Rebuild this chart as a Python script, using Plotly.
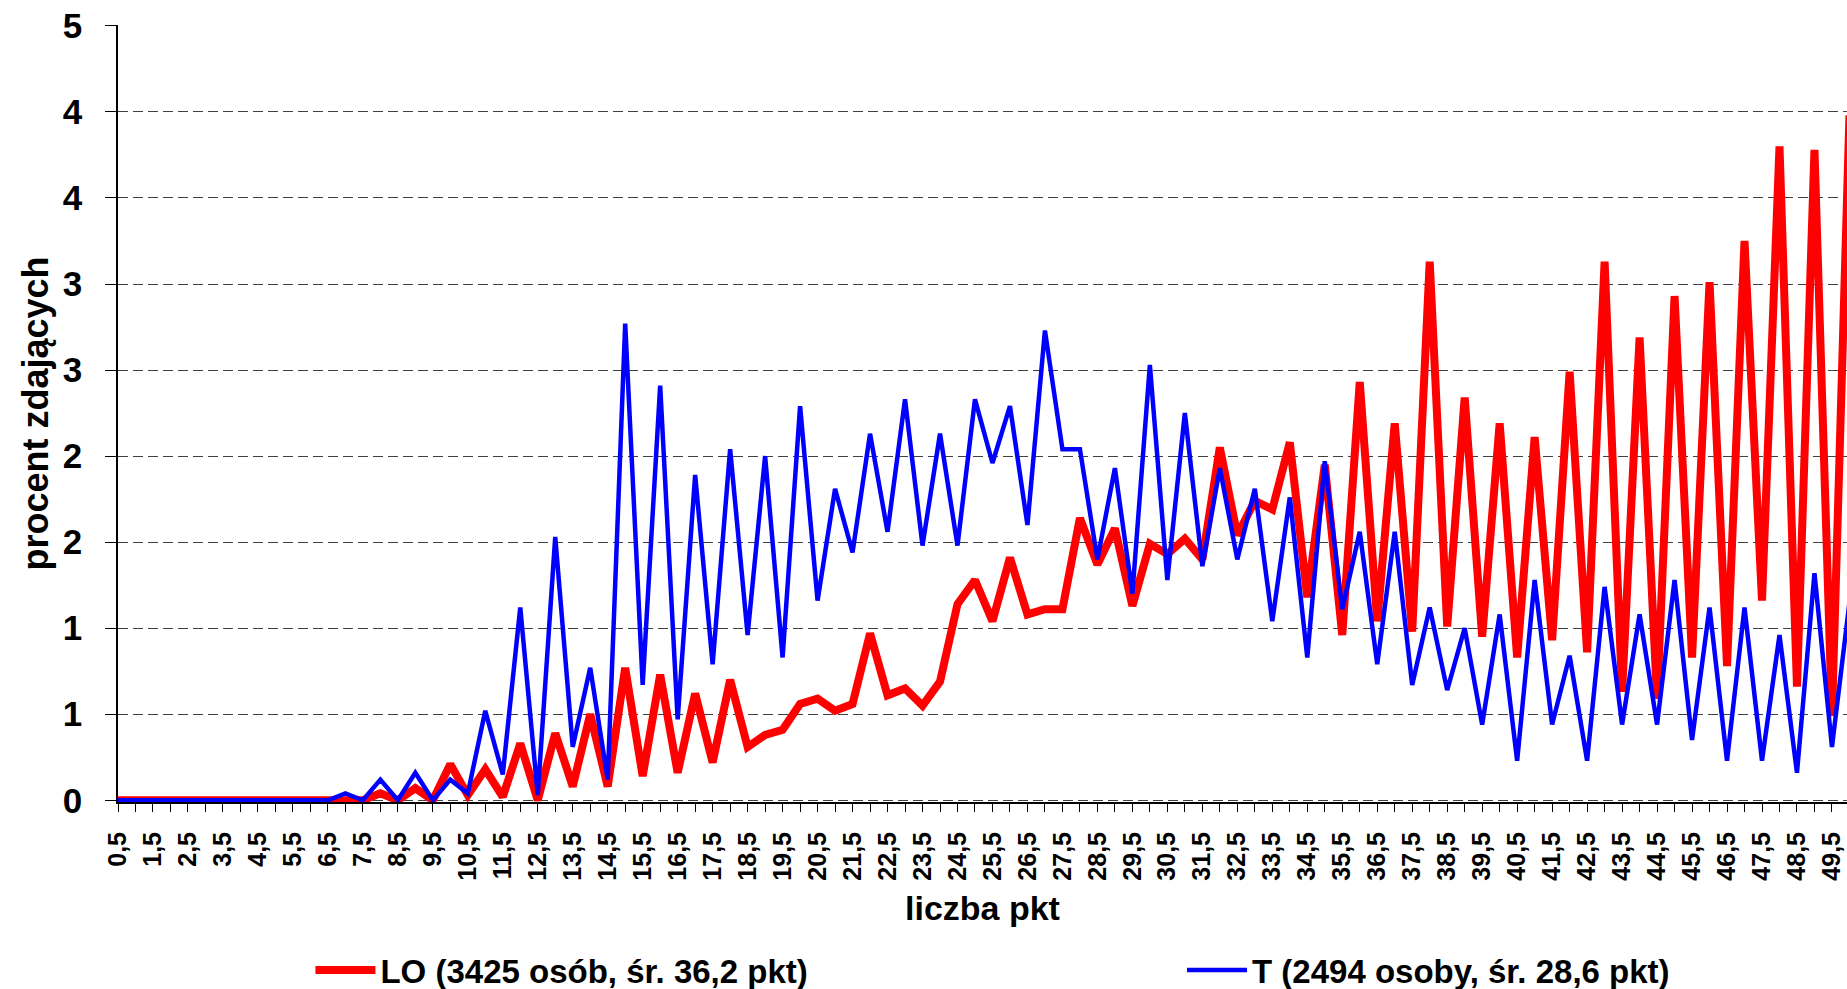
import plotly.graph_objects as go

# kategorie: liczba punktów co 0,5 (0,5 ... 50)
points = [k / 2 for k in range(1, 101)]

# procent zdających - LO (3425 osób)
lo_values = [
    0, 0, 0, 0, 0, 0, 0, 0, 0, 0,
    0, 0, 0, 0.01, 0, 0.04, 0, 0.07, 0, 0.21,
    0.03, 0.18, 0.02, 0.33, 0, 0.39, 0.08, 0.50, 0.08, 0.77,
    0.14, 0.73, 0.16, 0.62, 0.22, 0.70, 0.31, 0.38, 0.41, 0.56,
    0.59, 0.52, 0.56, 0.97, 0.61, 0.65, 0.55, 0.69, 1.14, 1.28,
    1.04, 1.41, 1.08, 1.11, 1.11, 1.64, 1.37, 1.58, 1.13, 1.49,
    1.43, 1.52, 1.40, 2.05, 1.54, 1.74, 1.69, 2.08, 1.18, 1.95,
    0.96, 2.43, 1.04, 2.19, 0.98, 3.13, 1.01, 2.34, 0.95, 2.19,
    0.83, 2.11, 0.93, 2.49, 0.86, 3.13, 0.63, 2.69, 0.59, 2.93,
    0.83, 3.01, 0.78, 3.25, 1.16, 3.80, 0.66, 3.78, 0.49, 3.98,
]

# procent zdających - T (2494 osoby)
t_values = [
    0, 0, 0, 0, 0, 0, 0, 0, 0, 0,
    0, 0, 0, 0.04, 0, 0.12, 0, 0.16, 0, 0.12,
    0.04, 0.52, 0.15, 1.12, 0.03, 1.53, 0.31, 0.77, 0.12, 2.77,
    0.67, 2.41, 0.47, 1.89, 0.79, 2.04, 0.96, 2.00, 0.83, 2.29,
    1.16, 1.81, 1.44, 2.13, 1.56, 2.33, 1.48, 2.13, 1.48, 2.33,
    1.96, 2.29, 1.60, 2.73, 2.04, 2.04, 1.40, 1.93, 1.20, 2.53,
    1.28, 2.25, 1.36, 1.93, 1.40, 1.81, 1.04, 1.76, 0.83, 1.97,
    1.11, 1.56, 0.79, 1.56, 0.67, 1.12, 0.64, 1.00, 0.44, 1.08,
    0.23, 1.28, 0.44, 0.84, 0.23, 1.24, 0.44, 1.08, 0.44, 1.28,
    0.35, 1.12, 0.23, 1.12, 0.23, 0.96, 0.16, 1.32, 0.31, 1.15,
]

# etykiety osi Y (Excel zaokrągla 0,5 -> 1 itd.)
y_tickvals = [0, 0.5, 1, 1.5, 2, 2.5, 3, 3.5, 4, 4.5]
y_ticktext = ["0", "1", "1", "2", "2", "3", "3", "4", "4", "5"]

# etykiety osi X - co druga kategoria
x_ticktext = [f"{p:.1f}".replace(".", ",") if i % 2 == 0 else "" for i, p in enumerate(points)]

FONT = "Liberation Sans, Arial, sans-serif"

fig = go.Figure()

fig.add_trace(go.Scatter(
    x=points, y=lo_values,
    mode="lines",
    name="LO (3425 osób, śr. 36,2 pkt)",
    line=dict(color="#FF0000", width=8),
    legend="legend",
))

fig.add_trace(go.Scatter(
    x=points, y=t_values,
    mode="lines",
    name="T (2494 osoby, śr. 28,6 pkt)",
    line=dict(color="#0000FF", width=4.5),
    legend="legend2",
))

# legenda w układzie "container", żeby nie przesuwała marginesów
legend_style = dict(
    orientation="h",
    yref="container",
    yanchor="middle",
    xanchor="left",
    y=0.0192,
    itemwidth=60,
    bgcolor="rgba(0,0,0,0)",
    font=dict(family=FONT, size=33, color="black", weight="bold"),
)

fig.update_layout(
    width=1847,
    height=989,
    margin=dict(l=118, r=0, t=25, b=187),
    plot_bgcolor="white",
    paper_bgcolor="white",
    showlegend=True,
    legend=dict(legend_style, x=0.1113),
    legend2=dict(legend_style, x=0.6154),
    xaxis=dict(
        range=[0.5, 49.93],
        automargin=False,
        tickmode="array",
        tickvals=points,
        ticktext=x_ticktext,
        tickangle=-90,
        tickfont=dict(family=FONT, size=25, color="black", weight="bold"),
        ticks="outside",
        ticklen=8,
        tickwidth=1,
        tickcolor="black",
        ticklabelstandoff=10,
        showline=True,
        linecolor="black",
        linewidth=2,
        showgrid=False,
        zeroline=False,
    ),
    yaxis=dict(
        range=[-0.01, 4.505],
        automargin=False,
        tickmode="array",
        tickvals=y_tickvals,
        ticktext=y_ticktext,
        tickfont=dict(family=FONT, size=35, color="black", weight="bold"),
        ticks="outside",
        ticklen=11,
        tickwidth=1,
        tickcolor="black",
        ticklabelstandoff=16,
        showline=True,
        linecolor="black",
        linewidth=1.5,
        showgrid=True,
        gridcolor="#404040",
        gridwidth=1,
        griddash="10px,5px",
        zeroline=False,
    ),
    annotations=[
        dict(
            text="liczba pkt",
            xref="paper", yref="paper",
            x=0.5, y=-0.1368,
            xanchor="center", yanchor="middle",
            showarrow=False,
            font=dict(family=FONT, size=34, color="black", weight="bold"),
        ),
        dict(
            text="procent zdających",
            xref="paper", yref="paper",
            x=-0.048, y=0.5,
            xanchor="center", yanchor="middle",
            textangle=-90,
            showarrow=False,
            font=dict(family=FONT, size=36, color="black", weight="bold"),
        ),
    ],
)

# bez domyślnego marginesu strony, żeby wykres zaczynał się w (0, 0)
fig.write_html(
    "out.html",
    config={"displayModeBar": False},
    post_script="document.body.style.margin='0px'; document.body.style.overflow='hidden';",
)
